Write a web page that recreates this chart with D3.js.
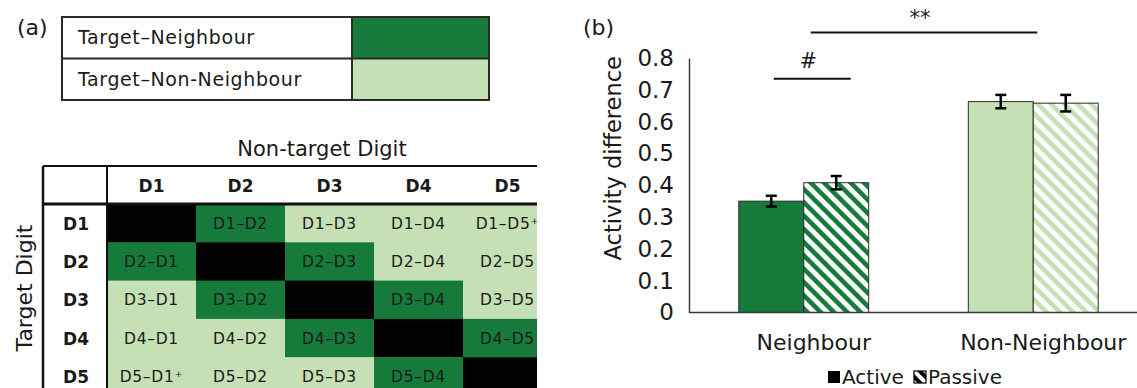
<!DOCTYPE html>
<html>
<head>
<meta charset="utf-8">
<script src="https://cdn.jsdelivr.net/npm/d3@7"></script>
<style>
  html, body { margin: 0; padding: 0; background: #fff; }
  svg { display: block; }
  text { font-family: "DejaVu Sans", Verdana, sans-serif; fill: #1a1a1a; }
</style>
</head>
<body>
<svg id="chart" width="1137" height="388"></svg>
<script>
// ---------------- DATA ----------------
const categories = ["Neighbour", "Non-Neighbour"];
const conditions = ["Active", "Passive"];
const activeValues = [0.350, 0.663];
const passiveValues = [0.408, 0.658];
const activeErrors = [0.017, 0.021];
const passiveErrors = [0.021, 0.026];
const yTicks = [0, 0.1, 0.2, 0.3, 0.4, 0.5, 0.6, 0.7, 0.8];
const yTickLabels = ["0", "0.1", "0.2", "0.3", "0.4", "0.5", "0.6", "0.7", "0.8"];
const sigLabels = ["#", "**"];
const sigLevels = [0.735, 0.88];

const pairTypes = ["Target–Neighbour", "Target–Non-Neighbour"];
const digits = ["D1", "D2", "D3", "D4", "D5"];
const cellTypes = [
  ["self", "nb", "non", "non", "non"],
  ["nb", "self", "nb", "non", "non"],
  ["non", "nb", "self", "nb", "non"],
  ["non", "non", "nb", "self", "nb"],
  ["non", "non", "non", "nb", "self"]
];
const cellLabels = [
  ["", "D1–D2", "D1–D3", "D1–D4", "D1–D5⁺"],
  ["D2–D1", "", "D2–D3", "D2–D4", "D2–D5"],
  ["D3–D1", "D3–D2", "", "D3–D4", "D3–D5"],
  ["D4–D1", "D4–D2", "D4–D3", "", "D4–D5"],
  ["D5–D1⁺", "D5–D2", "D5–D3", "D5–D4", ""]
];

// ---------------- STYLE ----------------
const DARK = "#167a3b";
const LIGHT = "#c5e0b4";
const typeColor = { self: "#000000", nb: DARK, non: LIGHT };
const catColors = [DARK, LIGHT];

const svg = d3.select("#chart");
const defs = svg.append("defs");

function hatch(id, color, period, stripe) {
  const p = defs.append("pattern")
    .attr("id", id)
    .attr("patternUnits", "userSpaceOnUse")
    .attr("width", period).attr("height", period)
    .attr("patternTransform", "rotate(-45)");
  p.append("rect").attr("width", period).attr("height", period).attr("fill", "#fff");
  p.append("rect").attr("x", 0).attr("y", 0).attr("width", stripe).attr("height", period).attr("fill", color);
}
hatch("hatch0", DARK, 9.4, 4.6);
hatch("hatch1", LIGHT, 9.4, 4.6);
hatch("hatchK", "#000", 8, 4);

defs.append("clipPath").attr("id", "clipA")
  .append("rect").attr("x", 0).attr("y", 0).attr("width", 537).attr("height", 388);

// ================= PANEL (a) =================
const gA = svg.append("g").attr("clip-path", "url(#clipA)");

gA.append("text").attr("x", 17).attr("y", 35).attr("font-size", 22).text("(a)");

// legend table
const legX = 62, legY = 17, legW = 427, legH = 83, legSplit = 352;
const legRows = d3.scaleBand().domain(pairTypes).range([legY, legY + legH]);
gA.selectAll(".legcell").data(pairTypes).join("rect")
  .attr("x", legSplit).attr("y", d => legRows(d))
  .attr("width", legX + legW - legSplit).attr("height", legRows.bandwidth())
  .attr("fill", (d, i) => catColors[i]);
gA.selectAll(".legtext").data(pairTypes).join("text")
  .attr("x", legX + 16).attr("y", d => legRows(d) + legRows.bandwidth() / 2 + 6.5)
  .attr("font-size", 19).attr("letter-spacing", 0.6).text(d => d);
gA.append("rect").attr("x", legX).attr("y", legY).attr("width", legW).attr("height", legH)
  .attr("fill", "none").attr("stroke", "#2a2a2a").attr("stroke-width", 2);
gA.append("line").attr("x1", legX).attr("x2", legX + legW)
  .attr("y1", legRows(pairTypes[1])).attr("y2", legRows(pairTypes[1]))
  .attr("stroke", "#2a2a2a").attr("stroke-width", 2);
gA.append("line").attr("x1", legSplit).attr("x2", legSplit)
  .attr("y1", legY).attr("y2", legY + legH).attr("stroke", "#2a2a2a").attr("stroke-width", 2);

// matrix
const tLeft = 43, tTop = 166, labW = 64, headH = 38;
const colScale = d3.scaleBand().domain(digits).range([tLeft + labW, tLeft + labW + 89 * 5]);
const rowScale = d3.scaleBand().domain(digits).range([tTop + headH, tTop + headH + 38.3 * 5]);

gA.append("text").attr("x", 322).attr("y", 156).attr("text-anchor", "middle")
  .attr("font-size", 21).text("Non-target Digit");

gA.append("text")
  .attr("transform", `translate(32, ${rowScale.range()[0] + 84}) rotate(-90)`)
  .attr("text-anchor", "middle").attr("font-size", 22).text("Target Digit");

const cells = [];
digits.forEach((r, i) => digits.forEach((c, j) => cells.push({ r, c, type: cellTypes[i][j], label: cellLabels[i][j] })));

gA.selectAll(".cell").data(cells).join("rect")
  .attr("x", d => colScale(d.c)).attr("y", d => rowScale(d.r))
  .attr("width", colScale.bandwidth() + 0.5).attr("height", rowScale.bandwidth() + 0.5)
  .attr("fill", d => typeColor[d.type]);
gA.selectAll(".celltext").data(cells.filter(d => d.label)).join("text")
  .attr("x", d => colScale(d.c) + colScale.bandwidth() / 2)
  .attr("y", d => rowScale(d.r) + rowScale.bandwidth() / 2 + 5.5)
  .attr("text-anchor", "middle").attr("font-size", 15.5).attr("letter-spacing", 0.7)
  .text(d => d.label);

gA.selectAll(".colhead").data(digits).join("text")
  .attr("x", d => colScale(d) + colScale.bandwidth() / 2)
  .attr("y", tTop + headH / 2 + 6.5)
  .attr("text-anchor", "middle").attr("font-size", 17).attr("font-weight", "bold")
  .text(d => d);
gA.selectAll(".rowhead").data(digits).join("text")
  .attr("x", tLeft + labW / 2 + 1)
  .attr("y", d => rowScale(d) + rowScale.bandwidth() / 2 + 6.5)
  .attr("text-anchor", "middle").attr("font-size", 17).attr("font-weight", "bold")
  .text(d => d);

const tRight = colScale.range()[1];
const tBottom = rowScale.range()[1];
gA.append("line").attr("x1", tLeft).attr("x2", tRight).attr("y1", tTop).attr("y2", tTop)
  .attr("stroke", "#111").attr("stroke-width", 2);
gA.append("line").attr("x1", tLeft).attr("x2", tRight).attr("y1", tTop + headH).attr("y2", tTop + headH)
  .attr("stroke", "#111").attr("stroke-width", 3);
gA.append("line").attr("x1", tLeft).attr("x2", tLeft).attr("y1", tTop).attr("y2", tBottom)
  .attr("stroke", "#111").attr("stroke-width", 2.5);
gA.append("line").attr("x1", tLeft + labW).attr("x2", tLeft + labW).attr("y1", tTop).attr("y2", tBottom)
  .attr("stroke", "#111").attr("stroke-width", 2);

// ================= PANEL (b) =================
const axisX = 689;
const y = d3.scaleLinear().domain([0, 0.8]).range([312.5, 58]);
const x0 = d3.scaleBand().domain(categories).range([axisX, axisX + 459])
  .paddingInner(0.434).paddingOuter(0.217);
const x1 = d3.scaleBand().domain(conditions).range([0, x0.bandwidth()]);

svg.append("text").attr("x", 583).attr("y", 35).attr("font-size", 22).text("(b)");

const yAxis = d3.axisLeft(y).tickValues(yTicks).tickSize(0).tickSizeOuter(0).tickPadding(15)
  .tickFormat((d, i) => yTickLabels[i]);
const gy = svg.append("g").attr("transform", `translate(${axisX},0)`).call(yAxis);
gy.select(".domain").attr("stroke", "#3a3a3a").attr("stroke-width", 1.5);
gy.selectAll(".tick text").attr("font-size", 23).attr("fill", "#1a1a1a")
  .attr("font-family", "DejaVu Sans, Verdana, sans-serif");

svg.append("text")
  .attr("transform", `translate(621, ${(y(0) + y(0.8)) / 2 - 27}) rotate(-90)`)
  .attr("text-anchor", "middle").attr("font-size", 22.5).text("Activity difference");

// bars
const barData = [];
categories.forEach((cat, i) => {
  barData.push({ cat, i, cond: "Active", v: activeValues[i], e: activeErrors[i], fill: catColors[i] });
  barData.push({ cat, i, cond: "Passive", v: passiveValues[i], e: passiveErrors[i], fill: `url(#hatch${i})` });
});

svg.selectAll(".bar").data(barData).join("rect")
  .attr("x", d => x0(d.cat) + x1(d.cond))
  .attr("y", d => y(d.v))
  .attr("width", x1.bandwidth())
  .attr("height", d => y(0) - y(d.v))
  .attr("fill", d => d.fill)
  .attr("stroke", "#2b2b2b").attr("stroke-width", 1);

// baseline
svg.append("line").attr("x1", axisX).attr("x2", 1137).attr("y1", y(0)).attr("y2", y(0))
  .attr("stroke", "#3a3a3a").attr("stroke-width", 1.5);

// error bars
const eb = svg.selectAll(".err").data(barData).join("g");
const cx = d => x0(d.cat) + x1(d.cond) + x1.bandwidth() / 2;
eb.append("line").attr("x1", cx).attr("x2", cx)
  .attr("y1", d => y(d.v - d.e)).attr("y2", d => y(d.v + d.e))
  .attr("stroke", "#000").attr("stroke-width", 2.5);
eb.append("line").attr("x1", d => cx(d) - 5.5).attr("x2", d => cx(d) + 5.5)
  .attr("y1", d => y(d.v - d.e)).attr("y2", d => y(d.v - d.e))
  .attr("stroke", "#000").attr("stroke-width", 2.5);
eb.append("line").attr("x1", d => cx(d) - 5.5).attr("x2", d => cx(d) + 5.5)
  .attr("y1", d => y(d.v + d.e)).attr("y2", d => y(d.v + d.e))
  .attr("stroke", "#000").attr("stroke-width", 2.5);

// category labels
svg.selectAll(".catlabel").data(categories).join("text")
  .attr("x", d => x0(d) + x0.bandwidth() / 2 + 10)
  .attr("y", 350)
  .attr("text-anchor", "middle").attr("font-size", 22)
  .text(d => d);

// significance
const gc0 = x0(categories[0]) + x0.bandwidth() / 2;
const gc1 = x0(categories[1]) + x0.bandwidth() / 2;
const sig = [
  { label: sigLabels[0], x1: gc0 - 30, x2: gc0 + 47, lv: sigLevels[0] },
  { label: sigLabels[1], x1: gc0 + 7, x2: gc1 + 4, lv: sigLevels[1] }
];
svg.selectAll(".sigline").data(sig).join("line")
  .attr("x1", d => d.x1).attr("x2", d => d.x2)
  .attr("y1", d => y(d.lv)).attr("y2", d => y(d.lv))
  .attr("stroke", "#111").attr("stroke-width", 2);
svg.selectAll(".siglabel").data(sig).join("text")
  .attr("x", d => (d.x1 + d.x2) / 2 - 4)
  .attr("y", (d, i) => y(d.lv) - (i === 0 ? 11 : 8))
  .attr("text-anchor", "middle").attr("font-size", 21)
  .text(d => d.label);

// legend
const lg = svg.append("g").attr("transform", "translate(828, 384)");
lg.append("rect").attr("x", 0).attr("y", -13).attr("width", 12).attr("height", 12).attr("fill", "#000");
lg.append("text").attr("x", 14).attr("y", 0).attr("font-size", 20).text(conditions[0]);
lg.append("rect").attr("x", 86).attr("y", -13).attr("width", 12).attr("height", 12)
  .attr("fill", "url(#hatchK)").attr("stroke", "#000").attr("stroke-width", 1.2);
lg.append("text").attr("x", 100).attr("y", 0).attr("font-size", 20).text(conditions[1]);
</script>
</body>
</html>
